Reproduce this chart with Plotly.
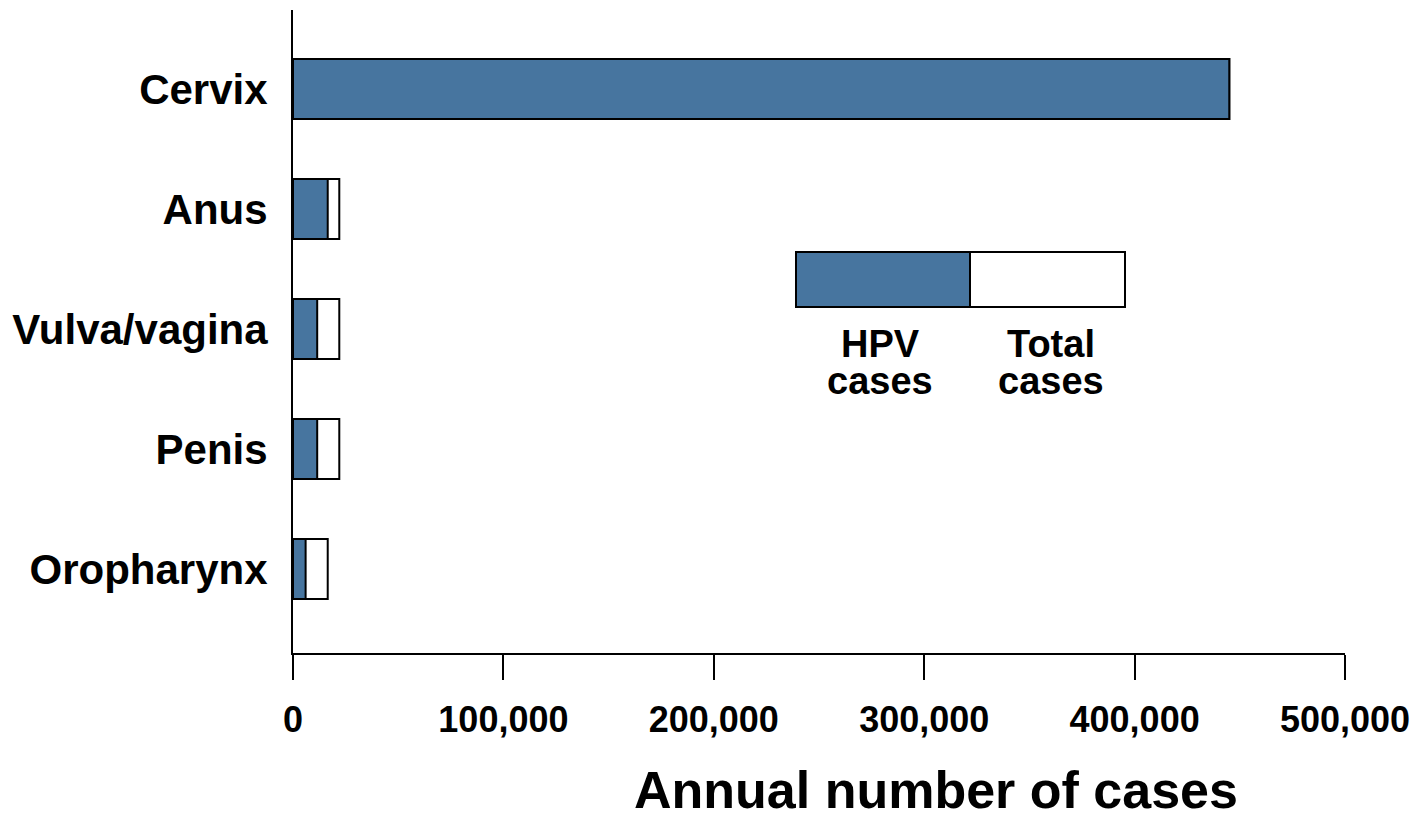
import plotly.graph_objects as go

# ---- data ----
sites = ["Cervix", "Anus", "Vulva/vagina", "Penis", "Oropharynx"]
hpv_cases = [445000, 16500, 11500, 11500, 6000]
total_cases = [445000, 22000, 22000, 22000, 16500]
x_ticks = [0, 100000, 200000, 300000, 400000, 500000]
x_tick_labels = ["0", "100,000", "200,000", "300,000", "400,000", "500,000"]
axis_title = "Annual number of cases"
legend_labels = [("HPV", "cases"), ("Total", "cases")]

BLUE = "#47759F"
FONT = "Arial, 'Liberation Sans', sans-serif"

# page has an 8px body margin; figure sized to fit the window
OFF = 8
W, H = 1423 - OFF, 819 - OFF
L, T = 293 - OFF, 10 - OFF
R = W - (1345 - OFF)
B = H - (653 - OFF)

fig = go.Figure()
fig.add_trace(go.Bar(
    y=sites, x=total_cases, orientation="h", width=0.5,
    marker=dict(color="white", line=dict(color="black", width=2)),
    name="Total cases", hoverinfo="x+y"))
fig.add_trace(go.Bar(
    y=sites, x=hpv_cases, orientation="h", width=0.5,
    marker=dict(color=BLUE, line=dict(color="black", width=2)),
    name="HPV cases", hoverinfo="x+y"))

# legend drawn as a key box (positions in reference-page pixels)
def px_x(p):
    return (p - 293) / 1052
def px_y(p):
    return (653 - p) / 643

fig.add_shape(type="rect", xref="paper", yref="paper",
              x0=px_x(796), x1=px_x(970), y0=px_y(307), y1=px_y(252),
              fillcolor=BLUE, line=dict(color="black", width=2))
fig.add_shape(type="rect", xref="paper", yref="paper",
              x0=px_x(970), x1=px_x(1125), y0=px_y(307), y1=px_y(252),
              fillcolor="white", line=dict(color="black", width=2))

for (l1, l2), cx in zip(legend_labels, [880, 1051]):
    fig.add_annotation(text="<b>%s</b>" % l1, xref="paper", yref="paper",
                       x=px_x(cx), y=px_y(344), showarrow=False,
                       xanchor="center", yanchor="middle",
                       font=dict(family=FONT, size=38, color="black"))
    fig.add_annotation(text="<b>%s</b>" % l2, xref="paper", yref="paper",
                       x=px_x(cx), y=px_y(381), showarrow=False,
                       xanchor="center", yanchor="middle",
                       font=dict(family=FONT, size=38, color="black"))

fig.add_annotation(text="<b>%s</b>" % axis_title, xref="paper", yref="paper",
                   x=px_x(936), y=px_y(790), showarrow=False,
                   xanchor="center", yanchor="middle",
                   font=dict(family=FONT, size=52, color="black"))

fig.update_layout(
    barmode="overlay",
    showlegend=False,
    width=W, height=H,
    margin=dict(l=L, r=R, t=T, b=B),
    paper_bgcolor="white", plot_bgcolor="white",
    font=dict(family=FONT, color="black"),
    xaxis=dict(range=[0, 500000], tickvals=x_ticks,
               ticktext=["<b>%s</b>" % t for t in x_tick_labels],
               showline=True, linecolor="black", linewidth=2,
               ticks="outside", ticklen=25, tickwidth=2, tickcolor="black",
               showgrid=False, zeroline=False,
               tickfont=dict(family=FONT, size=36, color="black"),
               ticklabelstandoff=9),
    yaxis=dict(type="category", categoryorder="array", categoryarray=sites,
               range=[4.7, -0.658],
               tickvals=sites, ticktext=["<b>%s</b>" % s for s in sites],
               showline=True, linecolor="black", linewidth=2,
               ticks="", showgrid=False, zeroline=False,
               tickfont=dict(family=FONT, size=42, color="black"),
               ticklabelstandoff=15),
)

fig.write_html("out.html")
